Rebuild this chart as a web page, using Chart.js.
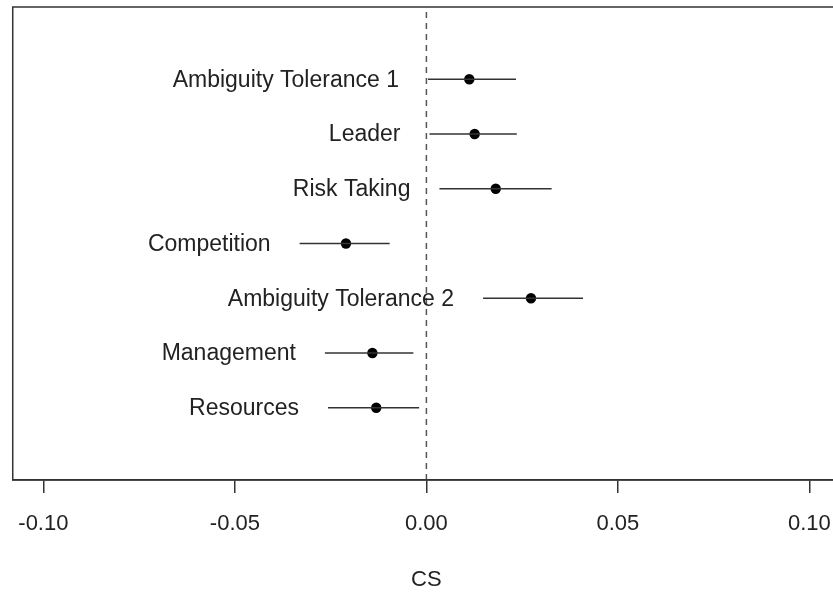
<!DOCTYPE html>
<html>
<head>
<meta charset="utf-8">
<script src="https://cdn.jsdelivr.net/npm/chart.js@4"></script>
<style>
  html, body { margin: 0; padding: 0; background: #fff; overflow: hidden; }
  #wrap { width: 849px; height: 592px; position: relative; }
</style>
</head>
<body>
<div id="wrap"><canvas id="cs-chart"></canvas></div>
<script>
const factors = ['Ambiguity Tolerance 1', 'Leader', 'Risk Taking', 'Competition', 'Ambiguity Tolerance 2', 'Management', 'Resources'];
const estimate = [0.0112, 0.0126, 0.0181, -0.0210, 0.0273, -0.0141, -0.0131];
const lower = [0.0004, 0.0008, 0.0034, -0.0331, 0.0148, -0.0265, -0.0257];
const upper = [0.0234, 0.0236, 0.0327, -0.0096, 0.0409, -0.0034, -0.0019];
const xTicks = [-0.10, -0.05, 0.00, 0.05, 0.10];
const xTitle = 'CS';

const FONT = '"Liberation Sans", Arial, Helvetica, sans-serif';
const ink = '#222';
const rowPos = factors.map((_, i) => factors.length - i);
const yMin = -0.32, yMax = factors.length + 1.32;

// one short segment per factor for its interval
const ciSets = factors.map((f, i) => ({
  type: 'line',
  data: [{ x: lower[i], y: rowPos[i] }, { x: upper[i], y: rowPos[i] }],
  borderColor: '#333',
  borderWidth: 1.5,
  pointRadius: 0,
}));

const zeroLine = {
  type: 'line',
  data: [{ x: 0, y: yMin }, { x: 0, y: yMax }],
  borderColor: '#555',
  borderWidth: 1.5,
  borderDash: [6, 5],
  pointRadius: 0,
};

const pointSet = {
  type: 'scatter',
  data: estimate.map((v, i) => ({ x: v, y: rowPos[i] })),
  backgroundColor: '#000',
  borderWidth: 0,
  pointRadius: 5.2,
};

// box around the plot region plus factor names left of each interval
const framePlugin = {
  id: 'frame',
  afterDatasetsDraw(chart) {
    const { ctx, chartArea: a, scales: { x, y } } = chart;
    ctx.save();
    ctx.strokeStyle = '#333';
    ctx.lineWidth = 1.5;
    ctx.strokeRect(a.left, a.top, a.right - a.left, a.bottom - a.top);
    ctx.fillStyle = ink;
    ctx.font = '23px ' + FONT;
    ctx.textAlign = 'right';
    ctx.textBaseline = 'middle';
    factors.forEach((f, i) => {
      ctx.fillText(f, x.getPixelForValue(lower[i]) - 29, y.getPixelForValue(rowPos[i]) + 1);
    });
    ctx.restore();
  }
};

new Chart(document.getElementById('cs-chart'), {
  type: 'scatter',
  data: { datasets: [zeroLine, ...ciSets, pointSet] },
  options: {
    responsive: true,
    maintainAspectRatio: false,
    animation: false,
    layout: { padding: { left: 12, top: 7, right: 4, bottom: 0 } },
    plugins: { legend: { display: false }, tooltip: { enabled: false } },
    scales: {
      x: {
        type: 'linear',
        min: -0.108,
        max: 0.108,
        afterBuildTicks: s => { s.ticks = xTicks.map(v => ({ value: v })); },
        afterFit: s => { s.height = 112; },
        grid: { drawOnChartArea: false, drawTicks: true, tickLength: 13, color: '#333', lineWidth: 1.5 },
        border: { display: true, color: '#333', width: 1.5 },
        ticks: { color: ink, font: { family: FONT, size: 22 }, padding: 18, maxRotation: 0, callback: v => v.toFixed(2) },
        title: { display: true, text: xTitle, color: ink, font: { family: FONT, size: 22 }, padding: { top: 0, bottom: -1 } },
      },
      y: { display: false, min: yMin, max: yMax },
    },
  },
  plugins: [framePlugin],
});
</script>
</body>
</html>
